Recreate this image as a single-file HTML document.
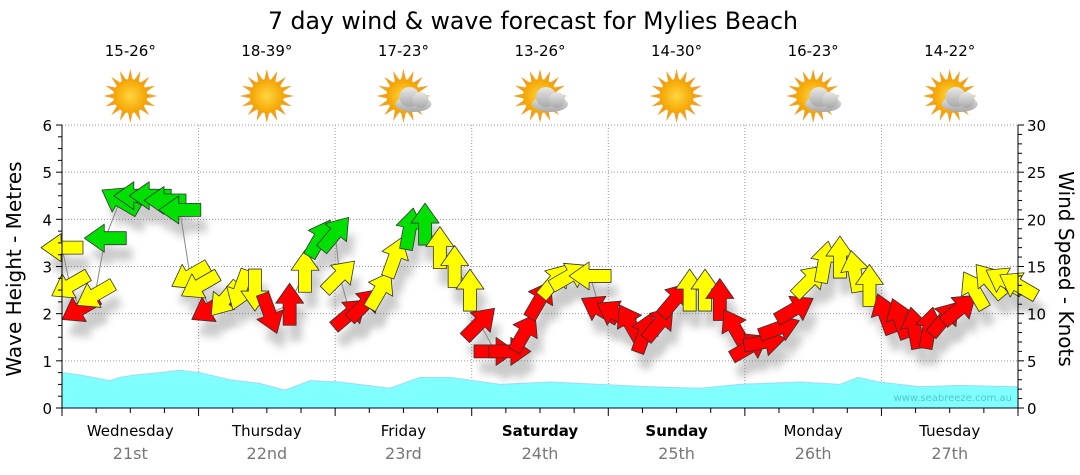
<!DOCTYPE html>
<html><head><meta charset="utf-8"><style>
body{margin:0;background:#fff;}
svg{display:block;font-family:"DejaVu Sans","Liberation Sans",sans-serif;}
</style></head><body>
<svg id="chart" width="1080" height="475" viewBox="0 0 1080 475">
<defs>
<filter id="sh" x="-50%" y="-50%" width="200%" height="200%"><feGaussianBlur stdDeviation="4"/></filter>
<radialGradient id="sunG"><stop offset="0" stop-color="#ffd640"/><stop offset="1" stop-color="#f4a300"/></radialGradient>
<linearGradient id="cloudG" x1="0" y1="0" x2="0" y2="1"><stop offset="0" stop-color="#e8e8e8"/><stop offset="1" stop-color="#a8a8a8"/></linearGradient>
</defs>
<text x="533" y="29" font-size="23.6" text-anchor="middle" fill="#000">7 day wind &amp; wave forecast for Mylies Beach</text>
<g id="grid"></g>
<g id="waves"></g>
<g id="shadows" opacity="0.3"></g>
<g id="wind"></g>
<g id="axes"></g>
<g id="icons"></g>
<text x="1012" y="401" font-size="10" text-anchor="end" fill="#4cc8d0">www.seabreeze.com.au</text>
<text transform="translate(21,269) rotate(-90)" font-size="20" text-anchor="middle">Wave Height - Metres</text>
<text transform="translate(1059,269) rotate(90)" font-size="20" text-anchor="middle">Wind Speed - Knots</text>
</svg>
<script>
const days=["Wednesday","Thursday","Friday","Saturday","Sunday","Monday","Tuesday"];
const dates=["21st","22nd","23rd","24th","25th","26th","27th"];
const temps=["15-26°","18-39°","17-23°","13-26°","14-30°","16-23°","14-22°"];
const cloudy=[0,0,1,1,0,1,1];
const waveTicks=[0,1,2,3,4,5,6];
const windTicks=[0,5,10,15,20,25,30];
const waveHours=[0,3.2,8.4,10.2,12.8,17.2,20.7,24.2,29.5,34.8,39.2,43.6,48.8,57.6,62.9,68.2,77,85.8,94.5,103.3,112.1,119.1,129.6,136.7,139.9,143.7,150.7,157.7,168];
const waveHeights=[0.75,0.7,0.58,0.65,0.7,0.75,0.8,0.75,0.6,0.52,0.38,0.58,0.55,0.42,0.65,0.65,0.5,0.55,0.5,0.45,0.42,0.5,0.55,0.5,0.65,0.55,0.45,0.48,0.45];
const windHours=[0,1.4,3.2,5.8,7.6,10.2,12.8,15.5,18.1,20.7,22.5,24.2,26,28.6,31.3,33.9,36.5,40,42.7,45.3,48,48.8,50.6,53.2,55.9,58.5,61.1,63.8,66.4,69,71.7,73.4,76.1,78.7,81.3,84,86.6,89.2,92.8,94.5,97.2,99.8,102.4,105,107.7,110.3,113,115.6,118.2,120.9,123.5,126.1,128.8,131.4,134,136.7,139.3,141.9,144.6,147.2,149.8,152.4,155.1,157.7,160.3,163,165.6,168];
const windKnots=[17,13,10.5,12,18,22,22.5,22.5,22,21,14,13,10.5,11.5,12.5,12.5,10,11,14.5,18,18.5,14,10,11,12.5,16,19,19.5,17,15,12.5,9,6,6,8,11.5,13.5,14,14,10.5,10,9,8,9,11.5,12.5,12.5,11.5,8.5,6.5,7,8.5,10.5,13.5,15.5,16,14.5,13,10,9.5,8.5,8.5,9.5,10.5,12.5,13.5,13.5,13];
const windDir=[270,240,240,240,270,300,270,270,270,270,240,240,240,220,200,180,160,0,0,30,40,45,50,45,30,20,10,0,0,0,0,45,90,90,30,30,40,60,270,300,300,330,20,40,40,0,0,0,330,60,80,70,60,45,10,0,350,0,340,340,350,10,40,50,330,320,300,300];
const windColor=["y","y","r","y","g","g","g","g","g","g","y","y","r","y","y","y","r","r","y","g","g","y","r","r","y","y","g","g","y","y","y","r","r","r","r","r","y","y","y","r","r","r","r","r","r","y","y","r","r","r","r","r","r","y","y","y","y","y","r","r","r","r","r","r","y","y","y","y"];

const NS="http://www.w3.org/2000/svg";
const X0=62,X1=1018,Y0=408,Y1=125;
const xS=h=>X0+(X1-X0)*h/168;
const yW=m=>Y0-(Y0-Y1)*m/6;
const yK=k=>Y0-(Y0-Y1)*k/30;
function mk(tag,at,parent){const e=document.createElementNS(NS,tag);for(const k in at)e.setAttribute(k,at[k]);parent.appendChild(e);return e;}
const G=id=>document.getElementById(id);
const cols={r:"#ff0000",y:"#ffff00",g:"#00e000"};

for(const t of waveTicks){if(t===0)continue;const l=mk('line',{x1:X0,x2:X1,y1:yW(t),y2:yW(t),stroke:'#999','stroke-dasharray':'1,2'},G('grid'));

}
for(let d=1;d<7;d++){const l=mk('line',{x1:xS(d*24),x2:xS(d*24),y1:Y1,y2:Y0,stroke:'#999','stroke-dasharray':'1,2'},G('grid'));

}

let p=`M${xS(waveHours[0])},${Y0}`;
waveHours.forEach((h,i)=>{p+=` L${xS(h)},${yW(waveHeights[i])}`;});
p+=` L${xS(waveHours[waveHours.length-1])},${Y0} Z`;
const wa=mk('path',{d:p,fill:'#80ffff',stroke:'#a0d8ff','stroke-width':1},G('waves'));



let lp='';windHours.forEach((h,i)=>{lp+=(i?' L':'M')+xS(h)+','+yK(windKnots[i]);});
const wl=mk('path',{d:lp,fill:'none',stroke:'#888','stroke-width':1},G('wind'));


const arrowPts="-21,-6.5 1,-6.5 1,-14 21,0 1,14 1,6.5 -21,6.5";
windHours.forEach((h,i)=>{
  const x=xS(h),y=yK(windKnots[i]),r=windDir[i]-90;
  const s=mk('polygon',{points:arrowPts,fill:'#555',filter:'url(#sh)',transform:`translate(${x+6},${y+16}) rotate(${r})`},G('shadows'));
  
  
  const a=mk('polygon',{points:arrowPts,fill:cols[windColor[i]],stroke:'#333','stroke-width':0.8,'stroke-linejoin':'round',transform:`translate(${x},${y}) rotate(${r})`},G('wind'));
  
  
});

const ax=G('axes');
let e=mk('line',{x1:X0,x2:X0,y1:Y1,y2:Y0,stroke:'#000'},ax);


e=mk('line',{x1:X1,x2:X1,y1:Y1,y2:Y0,stroke:'#000'},ax);


e=mk('line',{x1:X0,x2:X1,y1:Y0,y2:Y0,stroke:'#003'},ax);


for(let m=0;m<=6.001;m+=0.25){const maj=Math.abs(m-Math.round(m))<0.01;mk('line',{x1:X0-(maj?6:4),x2:X0,y1:yW(m),y2:yW(m),stroke:'#000'},ax);}
for(let k=0;k<=30;k++){const maj=k%5===0;mk('line',{x1:X1,x2:X1+(maj?6:4),y1:yK(k),y2:yK(k),stroke:'#000'},ax);}
for(let h=0;h<=168;h+=6){const maj=h%24===0;mk('line',{x1:xS(h),x2:xS(h),y1:Y0,y2:Y0+(maj?8:5),stroke:'#000'},ax);}
for(const t of waveTicks){const tx=mk('text',{x:X0-10,y:yW(t)+6,'font-size':15,'text-anchor':'end'},ax);tx.textContent=t;

}
for(const t of windTicks){const tx=mk('text',{x:X1+9,y:yK(t)+6,'font-size':15},ax);tx.textContent=t;

}
days.forEach((d,i)=>{
  const cx=xS(i*24+12);
  const t=mk('text',{x:cx,y:436,'font-size':15,'text-anchor':'middle','font-weight':(i===3||i===4)?'bold':'normal'},ax);t.textContent=d;
  
  
  const t2=mk('text',{x:cx,y:459,'font-size':16,'text-anchor':'middle',fill:'#777'},ax);t2.textContent=dates[i];
  
  
  const t3=mk('text',{x:cx,y:56,'font-size':15,'text-anchor':'middle'},G('icons'));t3.textContent=temps[i];
  
  
  const g=mk('g',{transform:`translate(${cx},96)`},G('icons'));
  
  
  for(let a=0;a<16;a++){mk('polygon',{points:'-2.5,-16 0,-27 2.5,-16',fill:'#f0a020',transform:`rotate(${a*22.5})`},g);}
  mk('circle',{r:17,fill:'url(#sunG)'},g);
  if(cloudy[i]){const c=mk('g',{transform:'translate(10,4)'},g);
    mk('ellipse',{cx:0,cy:4,rx:18,ry:8,fill:'url(#cloudG)'},c);
    mk('circle',{cx:-4,cy:-3,r:10,fill:'url(#cloudG)'},c);
    mk('circle',{cx:7,cy:0,r:8,fill:'url(#cloudG)'},c);}
});
</script>
</body></html>
